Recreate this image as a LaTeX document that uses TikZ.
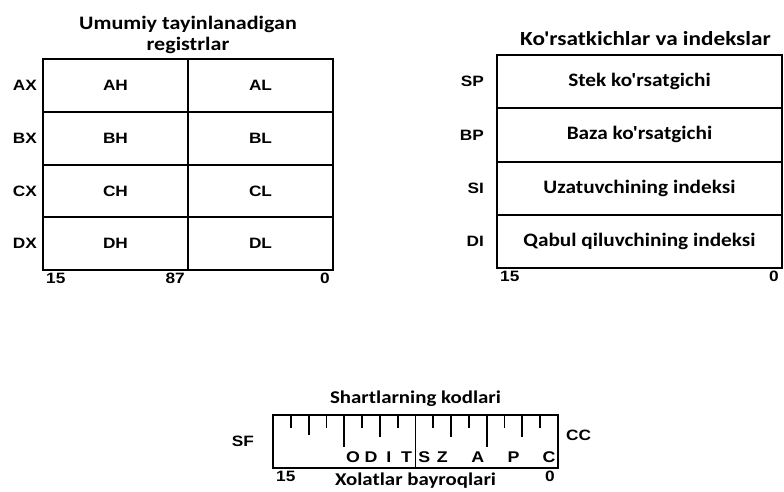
\documentclass[tikz,border=0pt]{standalone}
\usepackage{fontspec}
\setmainfont{Carlito}
\newfontfamily\lblfont{Liberation Sans}[FakeStretch=1.15]
\newfontfamily\ttlfont{Carlito}[FakeStretch=1.16]
\newfontfamily\rowfont{Carlito}[FakeStretch=1.12]
\usetikzlibrary{positioning, calc}

\begin{document}
\begin{tikzpicture}[x=1pt, y=-1pt,
  cell/.style={draw, line width=2pt, minimum width=145pt, minimum height=52.75pt, inner sep=0pt, outer sep=0pt, font=\lblfont\bfseries\fontsize{15}{16}\selectfont},
  ptrcell/.style={cell, minimum width=285pt, minimum height=53.25pt, font=\rowfont\bfseries\fontsize{19}{20}\selectfont},
  regname/.style={inner sep=1pt, font=\lblfont\bfseries\fontsize{15}{16}\selectfont},
  bitn/.style={inner sep=3pt, font=\lblfont\bfseries\fontsize{15}{16}\selectfont},
  ttl/.style={align=center, inner sep=1pt, font=\ttlfont\bfseries\fontsize{19}{21}\selectfont},
  flagbit/.style={inner sep=0pt, font=\lblfont\bfseries\fontsize{15.5}{16}\selectfont},
  tick/.style={line width=1.8pt}]
\useasboundingbox (0,0) rectangle (784,492);

% umumiy registrlar
\node[cell, anchor=north west] (ah) at (43,59) {AH};
\node[cell, right=0pt of ah] (al) {AL};
\node[cell, below=0pt of ah] (bh) {BH};
\node[cell, right=0pt of bh] (bl) {BL};
\node[cell, below=0pt of bh] (ch) {CH};
\node[cell, right=0pt of ch] (cl) {CL};
\node[cell, below=0pt of ch] (dh) {DH};
\node[cell, right=0pt of dh] (dl) {DL};
\node[regname, left=5pt of ah] (ax) {AX};
\node[regname, left=5pt of bh] (bx) {BX};
\node[regname, left=5pt of ch] (cx) {CX};
\node[regname, left=5pt of dh] (dx) {DX};
\node[ttl, above=4pt of ah.north east] (gentitle) {Umumiy tayinlanadigan\\registrlar};
\node[bitn, anchor=north west] (g15) at (dh.south west) {15};
\node[bitn, anchor=north east] (g87) at (dh.south east) {87};
\node[bitn, anchor=north east] (g0) at (dl.south east) {0};

% ko'rsatkichlar va indekslar
\node[ptrcell, anchor=north west] (sp) at (497,55) {Stek ko'rsatgichi};
\node[ptrcell, below=0pt of sp] (bp) {Baza ko'rsatgichi};
\node[ptrcell, below=0pt of bp] (si) {Uzatuvchining indeksi};
\node[ptrcell, below=0pt of si] (di) {Qabul qiluvchining indeksi};
\node[regname, left=12pt of sp] (spn) {SP};
\node[regname, left=12pt of bp] (bpn) {BP};
\node[regname, left=12pt of si] (sin) {SI};
\node[regname, left=12pt of di] (din) {DI};
\node[ttl, above=8pt of sp, xshift=6pt, font=\ttlfont\bfseries\fontsize{20}{21}\selectfont] (ptrtitle) {Ko'rsatkichlar va indekslar};
\node[bitn, anchor=north west] (p15) at (di.south west) {15};
\node[bitn, anchor=north east] (p0) at (di.south east) {0};

% bayroqlar registri
\node[cell, minimum width=285pt, minimum height=53pt, anchor=north west] (flags) at (273,415) {};
\foreach \k/\len in {1/13,2/20,3/13,4/32,5/13,6/22,7/13,9/13,10/22,11/13,12/32,13/13,14/22,15/13}
  \draw[tick] ($(flags.north west)+(\k*17.8125,0)$) -- ++(0,\len);
\draw[tick] (flags.north) -- (flags.south);
\foreach \b/\f in {11/O,10/D,9/I,8/T,7/S,6/Z,4/A,2/P,0/C}
  \node[flagbit] (f\b) at ($(flags.north west)+({(15.5-\b)*17.8125},42)$) {\f};
\node[regname, left=18pt of flags] (sf) {SF};
\node[regname, right=7pt of flags.east, yshift=6pt] (cc) {CC};
\node[ttl, above=7pt of flags, font=\ttlfont\bfseries\fontsize{18}{20}\selectfont] (cctitle) {Shartlarning kodlari};
\node[bitn, anchor=north west] (f15) at (flags.south west) {15};
\node[bitn, anchor=north east] (f0) at (flags.south east) {0};
\node[ttl, below=4pt of flags, font=\ttlfont\bfseries\fontsize{18}{20}\selectfont] (fltitle) {Xolatlar bayroqlari};
\end{tikzpicture}
\end{document}
